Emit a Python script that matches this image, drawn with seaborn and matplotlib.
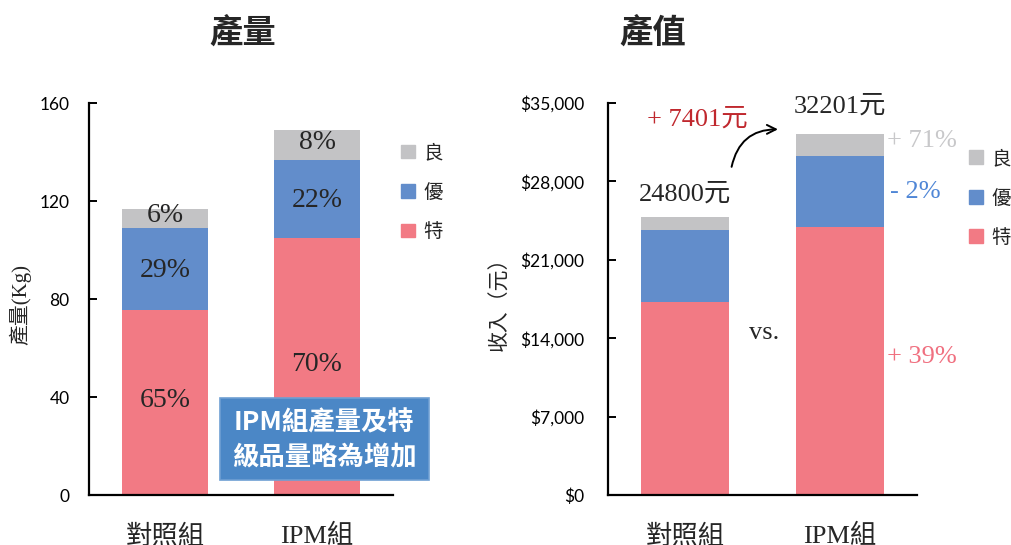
import matplotlib
matplotlib.use("Agg")
import matplotlib.pyplot as plt
import matplotlib.patches as mpatches
from matplotlib.ticker import FuncFormatter
import seaborn as sns
import pandas as pd

# ---------------- data ----------------
groups = ["對照組", "IPM組"]
grades = ["良", "優", "特"]

yield_te = [75.5, 104.8]      # 特
yield_you = [33.6, 31.8]      # 優
yield_liang = [7.5, 12.4]     # 良
yield_pct_te = ["65%", "70%"]
yield_pct_you = ["29%", "22%"]
yield_pct_liang = ["6%", "8%"]

value_te = [17200, 23900]
value_you = [6500, 6370]
value_liang = [1100, 1931]
value_totals_text = ["24800元", "32201元"]
diff_text = "+ 7401元"
change_texts = ["+ 71%", "- 2%", "+ 39%"]

yield_ticks = [0, 40, 80, 120, 160]
value_ticks = [0, 7000, 14000, 21000, 28000, 35000]

C_TE = "#F27A84"
C_YOU = "#628DCB"
C_LIANG = "#C3C3C5"
C_BOX = "#4B87C6"

sns.set_style("ticks")
plt.rcParams["font.family"] = ["Noto Sans CJK TC", "DejaVu Sans"]
SERIF = ["Liberation Serif", "Noto Sans CJK TC"]
CJK = ["Noto Sans CJK TC", "DejaVu Sans"]
NUM = ["Lato", "DejaVu Sans"]

W, H = 1011, 545
fig = plt.figure(figsize=(W / 100, H / 100), dpi=100)

def px_axes(x0, x1, ytop, ybot):
    return fig.add_axes([x0 / W, 1 - ybot / H, (x1 - x0) / W, (ybot - ytop) / H])

ax1 = px_axes(89, 393, 103, 495)
ax2 = px_axes(608, 917, 103, 495)


def stacked(ax, te, you, liang):
    df = pd.DataFrame({"group": groups, "te": te, "you": you, "liang": liang})
    df["c2"] = df["te"] + df["you"]
    df["c3"] = df["c2"] + df["liang"]
    for col, c in (("c3", C_LIANG), ("c2", C_YOU), ("te", C_TE)):
        sns.barplot(data=df, x="group", y=col, order=groups, color=c, width=0.57,
                    saturation=1, errorbar=None, ax=ax, linewidth=0, zorder=2)
    return df


def style_axes(ax, ticks, fmt, label, labelpos):
    ax.set_xlim(-0.5, 1.5)
    ax.set_ylim(ticks[0], ticks[-1])
    ax.set_yticks(ticks)
    ax.yaxis.set_major_formatter(FuncFormatter(fmt))
    for s in ("top", "right"):
        ax.spines[s].set_visible(False)
    for s in ("left", "bottom"):
        ax.spines[s].set_linewidth(1.6)
        ax.spines[s].set_color("black")
    ax.tick_params(axis="y", direction="in", length=6, width=1.4, pad=14,
                   labelsize=12.5, colors="black")
    ax.tick_params(axis="x", length=0, pad=21, labelsize=19)
    for t in ax.get_yticklabels():
        t.set_fontfamily(NUM)
    for t in ax.get_xticklabels():
        t.set_fontfamily(SERIF)
    ax.set_xlabel("")
    ax.set_ylabel(label, fontsize=15, family=SERIF)
    ax.yaxis.set_label_coords(*labelpos)


def legend(ax, anchor):
    handles = [mpatches.Patch(color=c) for c in (C_LIANG, C_YOU, C_TE)]
    leg = ax.legend(handles, grades, loc="upper left", bbox_to_anchor=anchor,
                    frameon=False, handlelength=0.7, handleheight=0.7,
                    handletextpad=0.45, labelspacing=0.95, borderaxespad=0,
                    borderpad=0, prop={"family": CJK, "size": 14})
    return leg

# ---------------- left: 產量 ----------------
df1 = stacked(ax1, yield_te, yield_you, yield_liang)
style_axes(ax1, yield_ticks, lambda v, p: f"{v:.0f}", "產量(Kg)", (-0.19, 0.485))
for i, r in df1.iterrows():
    ax1.text(i, r["te"] / 2 + 1, yield_pct_te[i], ha="center", va="center",
             fontsize=20, family=SERIF, zorder=5)
    ax1.text(i, (r["te"] + r["c2"]) / 2 - 0.5, yield_pct_you[i], ha="center", va="center",
             fontsize=20, family=SERIF, zorder=5)
    ax1.text(i, (r["c2"] + r["c3"]) / 2 + 1.2, yield_pct_liang[i], ha="center", va="center",
             fontsize=20, family=SERIF, zorder=5)
legend(ax1, (1.027, 0.9))

# annotation box
bx0, bx1, by0, by1 = 220, 429, 398, 480
fig.patches.append(mpatches.Rectangle((bx0 / W, 1 - by1 / H), (bx1 - bx0) / W, (by1 - by0) / H,
                                      transform=fig.transFigure, facecolor=C_BOX,
                                      edgecolor="#6E9FD3", linewidth=1.2, zorder=10))
fig.text((bx0 + bx1) / 2 / W, 1 - 423 / H, "IPM組產量及特", ha="center", va="center",
         color="white", fontsize=19, fontweight="bold", family=CJK, zorder=11)
fig.text((bx0 + bx1) / 2 / W, 1 - 457 / H, "級品量略為增加", ha="center", va="center",
         color="white", fontsize=19, fontweight="bold", family=CJK, zorder=11)

# ---------------- right: 產值 ----------------
df2 = stacked(ax2, value_te, value_you, value_liang)
style_axes(ax2, value_ticks, lambda v, p: f"${v:,.0f}", "收入（元）", (-0.315, 0.5))
ax2.tick_params(axis="y", pad=17)

ax2.text(0, df2["c3"][0] + 2000, value_totals_text[0], ha="center", va="center",
         fontsize=19, family=SERIF)
ax2.text(1, df2["c3"][1] + 2450, value_totals_text[1], ha="center", va="center",
         fontsize=19, family=SERIF, clip_on=False)
ax2.text(0.08, 33500, diff_text, ha="center", va="center", fontsize=19,
         family=SERIF, color="#C0282E", clip_on=False)
ax2.text(0.51, 14450, "vs.", ha="center", va="center", fontsize=19, family=SERIF)
ax2.text(1.305, 31600, change_texts[0], ha="left", va="center", fontsize=19,
         family=SERIF, color="#C8C8CA", clip_on=False)
ax2.text(1.325, 27050, change_texts[1], ha="left", va="center", fontsize=19,
         family=SERIF, color="#4F86D6", clip_on=False)
ax2.text(1.305, 12300, change_texts[2], ha="left", va="center", fontsize=19,
         family=SERIF, color="#F07080", clip_on=False)
ax2.annotate("", xy=(0.6, 32650), xytext=(0.3, 29300),
             arrowprops=dict(arrowstyle="->", color="black", lw=1.4,
                             connectionstyle="arc3,rad=-0.4", shrinkA=0, shrinkB=0,
                             mutation_scale=16))
legend(ax2, (1.168, 0.885))

# titles
fig.text(243 / W, 1 - 33 / H, "產量", ha="center", va="center", fontsize=24,
         fontweight="bold", family=CJK)
fig.text(653 / W, 1 - 33 / H, "產值", ha="center", va="center", fontsize=24,
         fontweight="bold", family=CJK)

fig.savefig("out.png", dpi=100)
